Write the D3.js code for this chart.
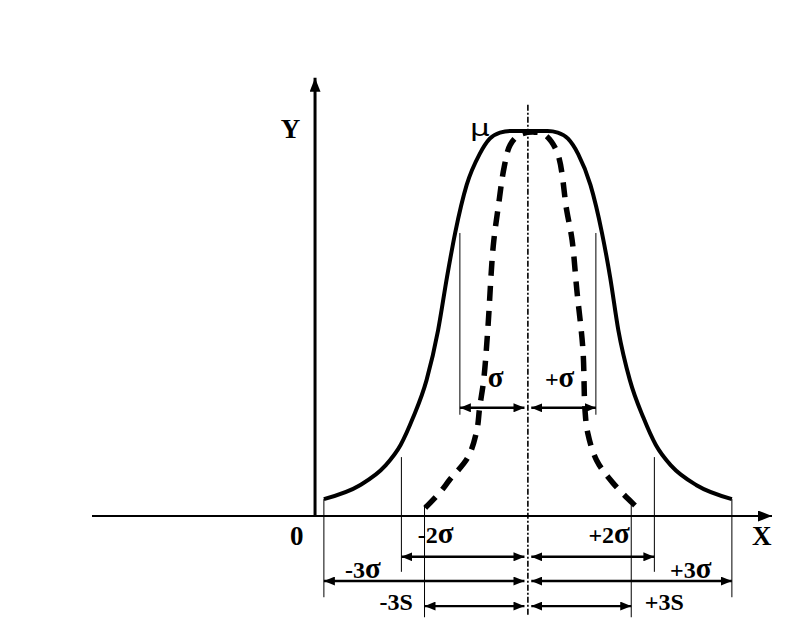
<html>
<head>
<script src="https://cdnjs.cloudflare.com/ajax/libs/d3/7.8.5/d3.min.js"></script>
<style>
  body { margin: 0; background: white; }
  text { font-family: "Liberation Serif", "DejaVu Serif", serif; fill: black; }
</style>
</head>
<body></body>
<script>
// x in sigma units measured from mu, y as share of the peak height
var solidT = [-3.00, -2.47, -2.10, -1.87, -1.69, -1.49, -1.32, -1.19, -1.07, -0.90, -0.71, -0.56, -0.41, -0.26,
              0.29, 0.44, 0.59, 0.74, 0.92, 1.09, 1.21, 1.33, 1.50, 1.70, 1.88, 2.11, 2.48, 3.00];
var solidV = [0.044, 0.080, 0.130, 0.185, 0.255, 0.353, 0.483, 0.620, 0.735, 0.860, 0.940, 0.980, 0.996, 1.0,
              1.0, 0.996, 0.980, 0.940, 0.860, 0.735, 0.620, 0.483, 0.353, 0.255, 0.185, 0.130, 0.080, 0.044];
var dashT = [-1.51, -1.29, -1.15, -0.88, -0.75, -0.71, -0.65, -0.59, -0.51, -0.43, -0.35, -0.26, -0.12,
             0.10, 0.25, 0.43, 0.57, 0.65, 0.72, 0.81, 0.84, 0.88, 1.01, 1.25, 1.60, 1.66];
var dashV = [0.021, 0.062, 0.094, 0.153, 0.223, 0.281, 0.353, 0.483, 0.700, 0.810, 0.905, 0.964, 0.990,
             0.997, 0.990, 0.945, 0.795, 0.717, 0.587, 0.431, 0.275, 0.216, 0.145, 0.086, 0.023, 0.013];

// interval rows: half width, level of the arrow, top of the guide lines
var rowNames = ["σ", "2σ", "3σ", "3S"];
var rowHalf = [1.00, 1.86, 3.00, 1.52];
var rowLevel = [0.281, -0.106, -0.169, -0.234];
var guideTop = [0.735, 0.153, 0.044, 0.029];

var labels = [
  {text: "Y", t: -3.49, v: 0.982, big: true, anchor: "middle"},
  {text: "μ", t: -0.85, v: 0.986, mu: true, anchor: "start"},
  {text: "0", t: -3.40, v: -0.075, big: true, anchor: "middle"},
  {text: "X", t: 3.44, v: -0.075, big: true, anchor: "middle"},
  {text: "σ", t: -0.59, v: 0.335, anchor: "start"},
  {text: "+σ", t: 0.25, v: 0.335, anchor: "start"},
  {text: "-2σ", t: -1.62, v: -0.070, anchor: "start"},
  {text: "+2σ", t: 1.50, v: -0.070, anchor: "end"},
  {text: "-3σ", t: -2.69, v: -0.161, anchor: "start"},
  {text: "+3σ", t: 2.09, v: -0.161, anchor: "start"},
  {text: "-3S", t: -1.69, v: -0.244, anchor: "end"},
  {text: "+3S", t: 1.72, v: -0.244, anchor: "start"}
];

var width = 794, height = 630;
var x = d3.scaleLinear().domain([-6.41, 3.59]).range([92, 772]);
var y = d3.scaleLinear().domain([0, 1]).range([516, 131]);
var yAxisAt = -3.13;

var svg = d3.select("body").append("svg")
  .attr("width", width)
  .attr("height", height);

var defs = svg.append("defs");
function marker(id, len, half) {
  defs.append("marker")
    .attr("id", id)
    .attr("markerUnits", "userSpaceOnUse")
    .attr("markerWidth", len)
    .attr("markerHeight", half * 2)
    .attr("refX", len)
    .attr("refY", half)
    .attr("orient", "auto-start-reverse")
    .append("path")
    .attr("d", "M0,0L" + len + "," + half + "L0," + (half * 2) + "Z")
    .attr("fill", "black");
}
marker("head", 11, 4.5);
marker("axisHead", 14, 5.5);

// axes
svg.append("line")
  .attr("x1", x(-6.41)).attr("x2", x(3.59))
  .attr("y1", y(0)).attr("y2", y(0))
  .attr("stroke", "black").attr("stroke-width", 2.2)
  .attr("marker-end", "url(#axisHead)");
svg.append("line")
  .attr("x1", x(yAxisAt)).attr("x2", x(yAxisAt))
  .attr("y1", y(0)).attr("y2", y(1.138))
  .attr("stroke", "black").attr("stroke-width", 3)
  .attr("marker-end", "url(#axisHead)");

// centre line through mu
svg.append("line")
  .attr("x1", x(0)).attr("x2", x(0))
  .attr("y1", y(1.068)).attr("y2", y(-0.257))
  .attr("stroke", "black").attr("stroke-width", 1.6)
  .attr("stroke-dasharray", "6,2,2,2");

function line(shape) {
  return d3.line()
    .x(function(d) { return x(d[0]); })
    .y(function(d) { return y(d[1]); })
    .curve(shape);
}

svg.append("path")
  .attr("d", line(d3.curveMonotoneX)(d3.zip(solidT, solidV)))
  .attr("fill", "none").attr("stroke", "black").attr("stroke-width", 4);

svg.append("path")
  .attr("d", line(d3.curveCatmullRom.alpha(0.5))(d3.zip(dashT, dashV)))
  .attr("fill", "none").attr("stroke", "black").attr("stroke-width", 5.5)
  .attr("stroke-dasharray", "15,10");

// guide lines and interval arrows
var guideDrop = [0.018, 0.039, 0.042, 0.029];
rowNames.forEach(function(name, i) {
  [-1, 1].forEach(function(side) {
    var t = side * rowHalf[i];
    svg.append("line")
      .attr("x1", x(t)).attr("x2", x(t))
      .attr("y1", y(guideTop[i])).attr("y2", y(rowLevel[i] - guideDrop[i]))
      .attr("stroke", "black").attr("stroke-width", 1);
    svg.append("line")
      .attr("x1", x(t)).attr("x2", x(side * 0.05))
      .attr("y1", y(rowLevel[i])).attr("y2", y(rowLevel[i]))
      .attr("stroke", "black").attr("stroke-width", 2.4)
      .attr("marker-start", "url(#head)")
      .attr("marker-end", "url(#head)");
  });
});

var txt = svg.selectAll("text.lbl").data(labels).enter().append("text")
  .attr("class", "lbl")
  .attr("transform", function(d) {
    return "translate(" + x(d.t) + "," + y(d.v) + ")" + (d.mu ? " scale(1.35,1)" : "");
  })
  .attr("text-anchor", function(d) { return d.anchor; })
  .attr("font-size", function(d) { return d.big ? 27 : d.mu ? 23 : 24; })
  .attr("font-weight", function(d) { return d.mu ? "normal" : "bold"; })
  .style("font-family", function(d) { return d.mu ? "'DejaVu Sans', sans-serif" : null; });

// sigma glyphs are drawn a little larger than the digits
txt.each(function(d) {
  var el = d3.select(this);
  d.text.split(/(σ)/).filter(Boolean).forEach(function(part) {
    el.append("tspan")
      .attr("font-size", part === "σ" && !d.big ? 29 : null)
      .text(part);
  });
});
</script>
</html>
